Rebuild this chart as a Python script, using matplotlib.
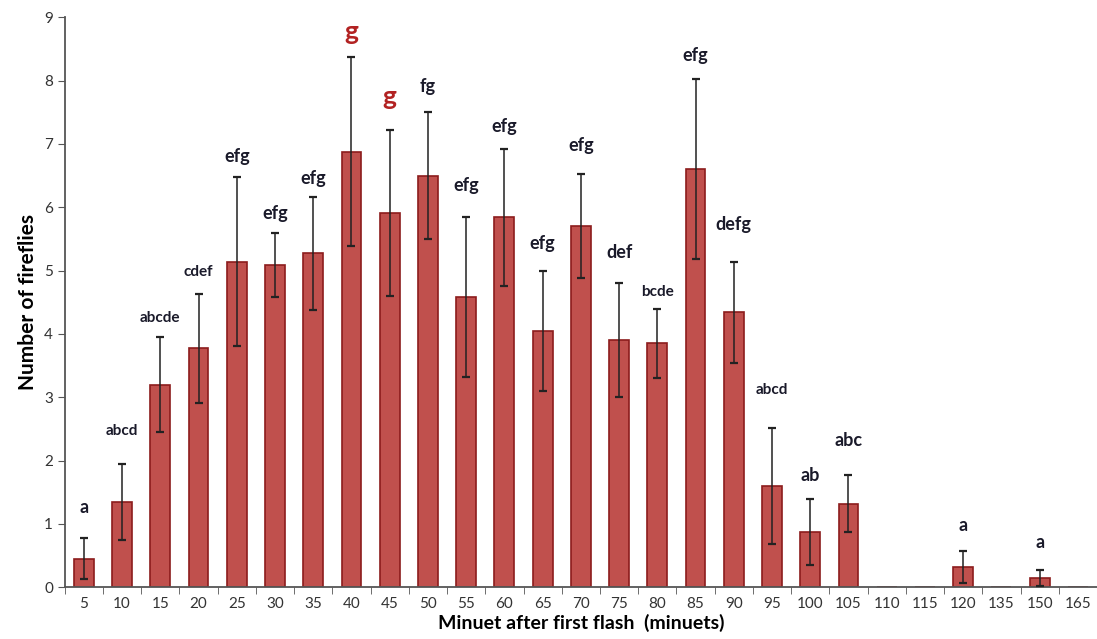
import matplotlib
matplotlib.use('Agg')
import matplotlib.pyplot as plt
import numpy as np

# data
minutes = ['5', '10', '15', '20', '25', '30', '35', '40', '45', '50', '55', '60', '65', '70',
           '75', '80', '85', '90', '95', '100', '105', '110', '115', '120', '135', '150', '165']
means = [0.45, 1.35, 3.2, 3.77, 5.14, 5.09, 5.27, 6.88, 5.91, 6.5, 4.58, 5.84, 4.05, 5.7,
         3.9, 3.85, 6.6, 4.34, 1.6, 0.87, 1.32, 0, 0, 0.32, 0, 0.15, 0]
errs = [0.32, 0.6, 0.75, 0.86, 1.33, 0.51, 0.89, 1.49, 1.31, 1.0, 1.26, 1.08, 0.95, 0.82,
        0.9, 0.55, 1.42, 0.8, 0.92, 0.52, 0.45, 0, 0, 0.26, 0, 0.13, 0]
letters = ['a', 'abcd', 'abcde', 'cdef', 'efg', 'efg', 'efg', 'g', 'g', 'fg', 'efg', 'efg', 'efg', 'efg',
           'def', 'bcde', 'efg', 'defg', 'abcd', 'ab', 'abc', '', '', 'a', '', 'a', '']
letter_y = [1.26, 2.46, 4.25, 4.98, 6.8, 5.9, 6.46, 8.77, 7.74, 7.9, 6.35, 7.27, 5.43, 6.98,
            5.28, 4.66, 8.39, 5.72, 3.11, 1.77, 2.32, 0, 0, 0.98, 0, 0.7, 0]

plt.rcParams['font.family'] = ['Lato', 'DejaVu Sans']

fig = plt.figure(figsize=(10.97, 6.39), dpi=100)
ax = fig.add_axes([0.059, 0.081, 0.941, 0.892])

x = np.arange(len(minutes))
ax.bar(x, means, width=0.52, color='#c0504d', edgecolor='#8c1c1c', linewidth=1.2, zorder=2)
mask = np.array(means) > 0
ax.errorbar(x[mask], np.array(means)[mask], yerr=np.array(errs)[mask], fmt='none',
            ecolor='#222222', elinewidth=1.1, capsize=3, capthick=1.6, zorder=3)

################################################################
#     significance letters                                     #
################################################################
for i in range(len(minutes)):
    if letters[i] == '':
        continue
    if letters[i] == 'g':
        ax.text(x[i], letter_y[i], 'g', ha='center', va='center', fontsize=19,
                fontweight='bold', color='#b22222')
    else:
        if len(letters[i]) >= 4 and letters[i] != 'defg':
            fs = 11
        else:
            fs = 13
        ax.text(x[i], letter_y[i], letters[i], ha='center', va='center', fontsize=fs,
                fontweight='bold', color='#1a1a2a')

ax.set_xlim(-0.5, len(minutes) - 0.5)
ax.set_ylim(0, 9)
ax.set_yticks(range(10))
ax.set_xticks(x)
ax.set_xticklabels(minutes)
ax.set_xticks(np.arange(-0.5, len(minutes) - 0.4, 1), minor=True)
ax.tick_params(axis='x', which='major', length=0, pad=7, labelsize=11, labelcolor='#333333')
ax.tick_params(axis='x', which='minor', length=5, direction='out', color='#555555')
ax.tick_params(axis='y', length=5, direction='out', labelsize=11, labelcolor='#333333', color='#555555')

for s in ['top', 'right']:
    ax.spines[s].set_visible(False)
for s in ['left', 'bottom']:
    ax.spines[s].set_color('#555555')
    ax.spines[s].set_linewidth(1.3)

ax.set_ylabel('Number of fireflies', fontsize=15, fontweight='bold', labelpad=4)
ax.set_xlabel('Minuet after first flash  (minuets)', fontsize=14, fontweight='bold', labelpad=2)

plt.savefig('out.png', dpi=100)
